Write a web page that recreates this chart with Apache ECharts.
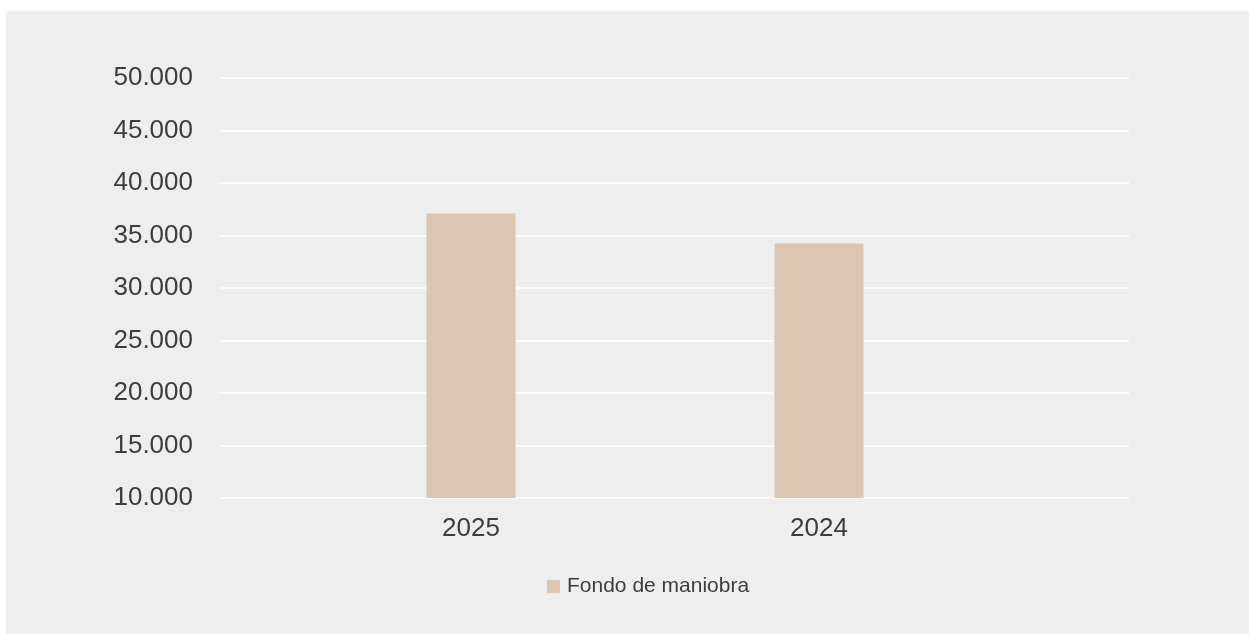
<!DOCTYPE html>
<html>
<head>
<meta charset="utf-8">
<script src="https://cdn.jsdelivr.net/npm/echarts@6/dist/echarts.min.js"></script>
<style>
  html, body { margin: 0; padding: 0; background: #ffffff; }
  #panel { position: absolute; left: 6px; top: 11px; width: 1243px; height: 623px; background: #eeeeee; }
  #chart { position: absolute; left: 0; top: 0; width: 1249px; height: 634px; }
</style>
</head>
<body>
<div id="panel"></div>
<div id="chart"></div>
<script>
// Working capital by year
const categories = ['2025', '2024'];
const seriesName = 'Fondo de maniobra';
const values = [37100, 34250];
const yMin = 10000;
const yMax = 50000;
const yStep = 5000;

const textColor = '#3d3d3d';
const barColor = '#dcc6b2';

function fmtThousands(v) {
  return String(Math.round(v)).replace(/\B(?=(\d{3})+(?!\d))/g, '.');
}

const chart = echarts.init(document.getElementById('chart'), null, { renderer: 'canvas' });
chart.setOption({
  backgroundColor: 'transparent',
  animation: false,
  textStyle: { fontFamily: 'Liberation Sans, Arial, sans-serif' },
  grid: [
    { left: 220, right: 120, top: 78, bottom: 136 },
    { left: 297, right: 256, top: 78, bottom: 136 }
  ],
  xAxis: [
    { gridIndex: 0, type: 'category', data: categories, show: false },
    {
      gridIndex: 1, type: 'category', data: categories,
      axisLine: { show: false }, axisTick: { show: false },
      axisLabel: { color: textColor, fontSize: 26, margin: 18 }
    }
  ],
  yAxis: [
    {
      gridIndex: 0, type: 'value', min: yMin, max: yMax, interval: yStep,
      axisLine: { show: false }, axisTick: { show: false },
      axisLabel: { color: textColor, fontSize: 26, margin: 27, formatter: fmtThousands },
      splitLine: { lineStyle: { color: '#ffffff', width: 1.5 } }
    },
    {
      gridIndex: 1, type: 'value', min: yMin, max: yMax, interval: yStep,
      show: false, splitLine: { show: false }
    }
  ],
  legend: {
    left: 542, top: 571,
    icon: 'rect', itemWidth: 13, itemHeight: 13, itemGap: 20,
    textStyle: { color: textColor, fontSize: 21, padding: [0, 0, 0, 2] },
    data: [seriesName]
  },
  series: [
    {
      name: seriesName, type: 'bar', xAxisIndex: 1, yAxisIndex: 1,
      data: values, barWidth: 89,
      itemStyle: { color: barColor }
    }
  ]
});
</script>
</body>
</html>
